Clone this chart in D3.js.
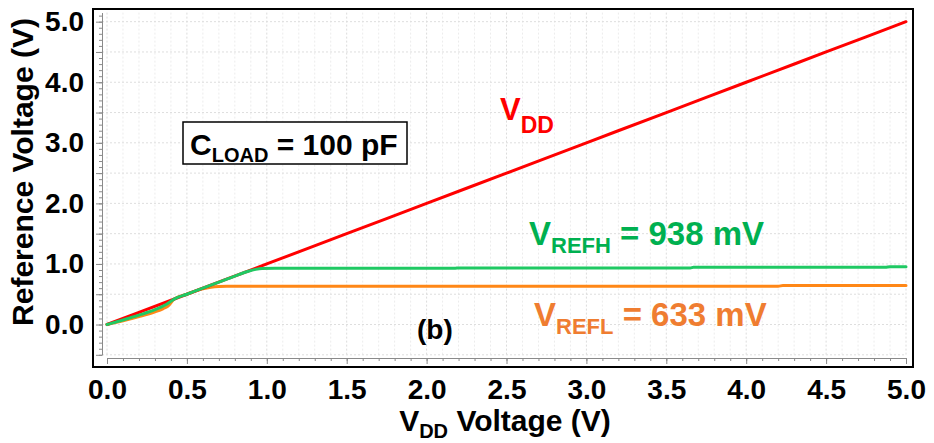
<!DOCTYPE html>
<html><head><meta charset="utf-8">
<script src="https://cdn.jsdelivr.net/npm/d3@7"></script>
<style>
body{margin:0;background:#fff}
svg{display:block}
text{font-family:"Liberation Sans",Arial,sans-serif;font-weight:bold}
</style>
</head><body>
<svg id="c" width="934" height="443"></svg>
<script>
// ---- data ----
const xTickLabels = ["0.0","0.5","1.0","1.5","2.0","2.5","3.0","3.5","4.0","4.5","5.0"];
const xTickValues = [0,0.5,1,1.5,2,2.5,3,3.5,4,4.5,5];
const yTickLabels = ["0.0","1.0","2.0","3.0","4.0","5.0"];
const yTickValues = [0,1,2,3,4,5];

const vddX = [0, 0.5, 1.0, 1.5, 2.0, 2.5, 3.0, 3.5, 4.0, 4.5, 5.0];
const vddY = [0, 0.5, 1.0, 1.5, 2.0, 2.5, 3.0, 3.5, 4.0, 4.5, 5.0];

const refhX = [0, 0.1, 0.2, 0.3, 0.37, 0.42, 0.5, 0.6, 0.7, 0.8, 0.88, 0.93, 0.97, 1.05, 1.5, 2.18, 2.2, 3.0, 3.65, 3.67, 4.5, 4.87, 4.9, 5.0];
const refhY = [0, 0.075, 0.155, 0.245, 0.33, 0.42, 0.5, 0.6, 0.7, 0.8, 0.875, 0.91, 0.925, 0.93, 0.93, 0.93, 0.935, 0.935, 0.935, 0.945, 0.945, 0.945, 0.955, 0.955];

const reflX = [0, 0.1, 0.2, 0.3, 0.35, 0.38, 0.42, 0.5, 0.6, 0.65, 0.7, 0.75, 0.85, 1.5, 2.5, 3.5, 4.2, 4.23, 5.0];
const reflY = [0, 0.06, 0.13, 0.21, 0.26, 0.30, 0.42, 0.5, 0.59, 0.615, 0.628, 0.632, 0.632, 0.632, 0.632, 0.632, 0.632, 0.645, 0.645];

// ---- layout ----
const svg = d3.select("#c");
const x = d3.scaleLinear().domain([0, 5]).range([107, 906]);
const y = d3.scaleLinear().domain([-0.5, 5.15]).range([354.8, 12.6]);
const left = 102, bottom = 358;

// gridlines
const g = svg.append("g");
const vGrid = d3.range(0, 51).map(i => i / 10);
g.selectAll("line.vg").data(vGrid).join("line")
  .attr("x1", d => x(d)).attr("x2", d => x(d))
  .attr("y1", y(5.15)).attr("y2", y(-0.5))
  .attr("stroke", (d, i) => i % 5 === 0 ? "#dcdcdc" : "#ececec")
  .attr("stroke-width", 1).attr("stroke-dasharray", "2,2");
const hGrid = d3.range(-1, 11).map(i => i / 2);
g.selectAll("line.hg").data(hGrid).join("line")
  .attr("x1", left).attr("x2", x(5))
  .attr("y1", d => y(d)).attr("y2", d => y(d))
  .attr("stroke", "#dedede").attr("stroke-width", 1).attr("stroke-dasharray", "2,2");

// axes: minor ticks
const minorX = d3.range(0, 51).map(i => i / 10);
const minorY = d3.range(-5, 52).map(i => i / 10);
const axX1 = svg.append("g").attr("transform", `translate(0,${bottom})`)
  .call(d3.axisBottom(x).tickValues(minorX).tickSize(3).tickSizeOuter(0).tickFormat(""));
const axX2 = svg.append("g").attr("transform", `translate(0,${bottom})`)
  .call(d3.axisBottom(x).tickValues(xTickValues).tickSize(6).tickSizeOuter(0)
    .tickFormat((d, i) => xTickLabels[i]).tickPadding(15));
const axY1 = svg.append("g").attr("transform", `translate(${left},0)`)
  .call(d3.axisLeft(y).tickValues(minorY).tickSize(3).tickSizeOuter(0).tickFormat(""));
const axY2 = svg.append("g").attr("transform", `translate(${left},0)`)
  .call(d3.axisLeft(y).tickValues(d3.range(-1, 11).map(i => i / 2)).tickSize(6).tickSizeOuter(0).tickFormat(""));
const axY3 = svg.append("g").attr("transform", `translate(${left},0)`)
  .call(d3.axisLeft(y).tickValues(yTickValues).tickSize(0).tickFormat((d, i) => yTickLabels[i]).tickPadding(18));
axY3.select(".domain").remove();
[axX1, axX2, axY1, axY2].forEach(a => {
  a.selectAll("path,line").attr("stroke", "#8a8a8a").attr("stroke-width", 1);
});
[axX2, axY3].forEach(a => {
  a.selectAll("text").attr("fill", "#000").style("font-size", "28px")
    .style("font-family", '"Liberation Sans",Arial,sans-serif').style("font-weight", "bold");
});

// frame
svg.append("rect").attr("x", 93).attr("y", 9).attr("width", 820).attr("height", 358)
  .attr("fill", "none").attr("stroke", "#000").attr("stroke-width", 2);

// lines
const line = d3.line().x(d => x(d[0])).y(d => y(d[1])).curve(d3.curveMonotoneX);
const series = [
  {xs: reflX, ys: reflY, color: "#ff8716"},
  {xs: vddX, ys: vddY, color: "#ff0000"},
  {xs: refhX, ys: refhY, color: "#1fc963"}
];
svg.append("g").selectAll("path").data(series).join("path")
  .attr("d", s => line(s.xs.map((v, i) => [v, s.ys[i]])))
  .attr("fill", "none").attr("stroke", s => s.color).attr("stroke-width", 3)
  .attr("stroke-linejoin", "round").attr("stroke-linecap", "round");

// axis titles
svg.append("text").attr("transform", "translate(33,172) rotate(-90)")
  .attr("text-anchor", "middle").style("font-size", "30px").attr("fill", "#000")
  .text("Reference Voltage (V)");
const xt = svg.append("text").attr("x", 505).attr("y", 431).attr("text-anchor", "middle")
  .style("font-size", "30px").attr("fill", "#000");
xt.append("tspan").text("V");
xt.append("tspan").attr("dy", 7).style("font-size", "20px").text("DD");
xt.append("tspan").attr("dy", -7).text(" Voltage (V)");

// annotations
svg.append("rect").attr("x", 183).attr("y", 122).attr("width", 224).attr("height", 42)
  .attr("fill", "#fff").attr("stroke", "#000").attr("stroke-width", 1.5);
const cl = svg.append("text").attr("x", 190).attr("y", 155).style("font-size", "30px").attr("fill", "#000");
cl.append("tspan").text("C");
cl.append("tspan").attr("dy", 7).style("font-size", "20px").text("LOAD");
cl.append("tspan").attr("dy", -7).text(" = 100 pF");

const vd = svg.append("text").attr("x", 500).attr("y", 120).style("font-size", "31px").attr("fill", "#ff0000");
vd.append("tspan").text("V");
vd.append("tspan").attr("dy", 13).style("font-size", "23px").text("DD");

const vh = svg.append("text").attr("x", 529).attr("y", 245).style("font-size", "33px").attr("fill", "#00b050");
vh.append("tspan").text("V");
vh.append("tspan").attr("dy", 8).style("font-size", "22px").text("REFH");
vh.append("tspan").attr("dy", -8).text(" = 938 mV");

const vl = svg.append("text").attr("x", 534).attr("y", 326).style("font-size", "33px").attr("fill", "#ef7d31");
vl.append("tspan").text("V");
vl.append("tspan").attr("dy", 8).style("font-size", "22px").text("REFL");
vl.append("tspan").attr("dy", -8).text(" = 633 mV");

svg.append("text").attr("x", 417).attr("y", 339).style("font-size", "28px").attr("fill", "#000").text("(b)");
</script>
</body></html>
